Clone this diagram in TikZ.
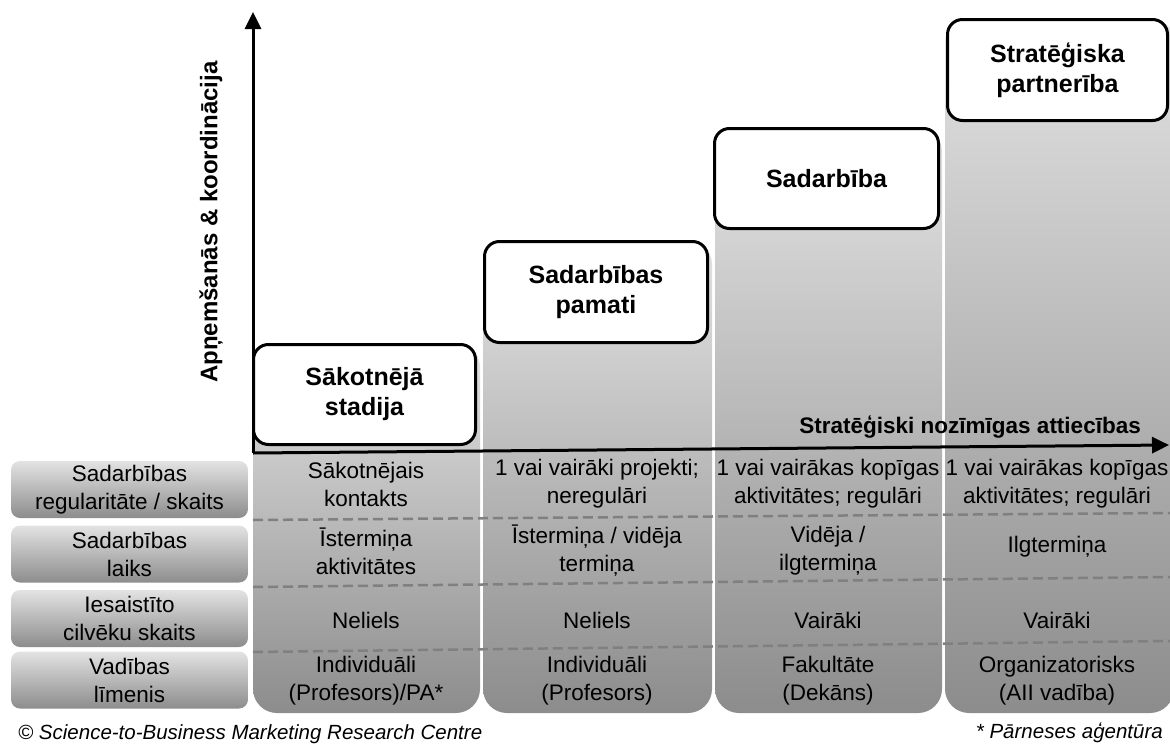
\documentclass[tikz,border=0pt]{standalone}
\usepackage{fontspec}
\setmainfont{Liberation Sans}
\usetikzlibrary{arrows.meta}

\definecolor{coltop}{gray}{0.89}
\definecolor{colbot}{gray}{0.55}
\definecolor{dashgray}{gray}{0.5}

\begin{document}
\begin{tikzpicture}[x=1pt, y=-1pt,
                          stagecol/.style={rectangle, rounded corners=24pt, top color=coltop, bottom color=colbot, inner sep=0pt},
                          stagebox/.style={rectangle, rounded corners=15pt, draw, line width=3pt, fill=white, align=center, inner sep=0pt, font=\fontsize{25}{30}\selectfont\bfseries},
                          rowlabel/.style={rectangle, rounded corners=9pt, top color=coltop, bottom color=colbot, minimum width=237pt, minimum height=57pt, align=center, inner sep=0pt, font=\fontsize{22.5}{28}\selectfont},
                          celltext/.style={align=center, inner sep=0pt, font=\fontsize{22.5}{28}\selectfont},
                          divider/.style={dashgray, line width=2.5pt, dash pattern=on 10pt off 5pt},
                          axis/.style={line width=3pt, -{Triangle[length=17pt,width=16pt]}},
                          footnote/.style={inner sep=0pt, font=\fontsize{20.5}{24}\selectfont\itshape},
                      ]
                      \useasboundingbox (0,0) rectangle (1170,744);

                      %Columns
                      \node[stagecol, minimum width=227pt, minimum height=370pt] (col1) at (366.5,528)   {};
                      \node[stagecol, minimum width=229pt, minimum height=473pt] (col2) at (597.5,476.5) {};
                      \node[stagecol, minimum width=227pt, minimum height=586pt] (col3) at (828.5,420)   {};
                      \node[stagecol, minimum width=229pt, minimum height=695pt] (col4) at (1059.5,365.5) {};

                      %Row labels
                      \node[rowlabel] (lab1) at (129.5,489.5) {Sadarbības\\regularitāte / skaits};
                      \node[rowlabel] (lab2) at (129.5,554)   {Sadarbības\\laiks};
                      \node[rowlabel] (lab3) at (129.5,618.5) {Iesaistīto\\cilvēku skaits};
                      \node[rowlabel] (lab4) at (129.5,680)   {Vadības\\līmenis};

                      %Dividers
                      \coordinate (d1l) at (253,520);
                      \coordinate (d1r) at (1170,513);
                      \coordinate (d2l) at (253,587);
                      \coordinate (d2r) at (1170,577);
                      \coordinate (d3l) at (253,652);
                      \coordinate (d3r) at (1170,641);
                      \draw[divider] (d1l) -- (d1r);
                      \draw[divider] (d2l) -- (d2r);
                      \draw[divider] (d3l) -- (d3r);

                      %Cells
                      \node[celltext] (c11) at (366,484)  {Sākotnējais\\kontakts};
                      \node[celltext] (c12) at (597,484)  {1 vai vairāki projekti;\\neregulāri};
                      \node[celltext] (c13) at (828,484)  {1 vai vairākas kopīgas\\aktivitātes; regulāri};
                      \node[celltext] (c14) at (1057,484) {1 vai vairākas kopīgas\\aktivitātes; regulāri};
                      \node[celltext] (c21) at (366,551)  {Īstermiņa\\aktivitātes};
                      \node[celltext] (c22) at (597,551)  {Īstermiņa / vidēja\\termiņa};
                      \node[celltext] (c23) at (828,551)  {Vidēja /\\ilgtermiņa};
                      \node[celltext] (c24) at (1057,547) {Ilgtermiņa};
                      \node[celltext] (c31) at (366,620)  {Neliels};
                      \node[celltext] (c32) at (597,620)  {Neliels};
                      \node[celltext] (c33) at (828,620)  {Vairāki};
                      \node[celltext] (c34) at (1057,620) {Vairāki};
                      \node[celltext] (c41) at (366,681)  {Individuāli\\(Profesors)/PA*};
                      \node[celltext] (c42) at (597,681)  {Individuāli\\(Profesors)};
                      \node[celltext] (c43) at (828,681)  {Fakultāte\\(Dekāns)};
                      \node[celltext] (c44) at (1057,681) {Organizatorisks\\(AII vadība)};

                      %Stages
                      \node[stagebox, minimum width=222pt, minimum height=100pt] (stage1) at (364.5,394.5) {Sākotnējā\\stadija};
                      \node[stagebox, minimum width=223pt, minimum height=101pt] (stage2) at (596,292)     {Sadarbības\\pamati};
                      \node[stagebox, minimum width=224pt, minimum height=100pt] (stage3) at (826.5,178.5) {Sadarbība};
                      \node[stagebox, minimum width=220pt, minimum height=101pt] (stage4) at (1057.5,70)   {Stratēģiska\\partnerība};

                      %Axes
                      \coordinate (origin) at (253,453);
                      \coordinate (ytip)   at (253,12);
                      \coordinate (xtip)   at (1169,445);
                      \draw[axis] (origin) -- (ytip);
                      \draw[axis] (origin) -- (xtip);
                      \node[rotate=90, font=\fontsize{24}{28}\selectfont\bfseries] (ylab) at (211,222) {Apņemšanās \& koordinācija};
                      \node[anchor=east, inner sep=0pt, font=\fontsize{22.5}{28}\selectfont\bfseries] (xlab) at (1141,427) {Stratēģiski nozīmīgas attiecības};

                      %Notes
                      \node[footnote, anchor=west] (source) at (18,734) {© Science-to-Business Marketing Research Centre};
                      \node[footnote, anchor=east] (note)   at (1163,733) {* Pārneses aģentūra};
                  \end{tikzpicture}
\end{document}
